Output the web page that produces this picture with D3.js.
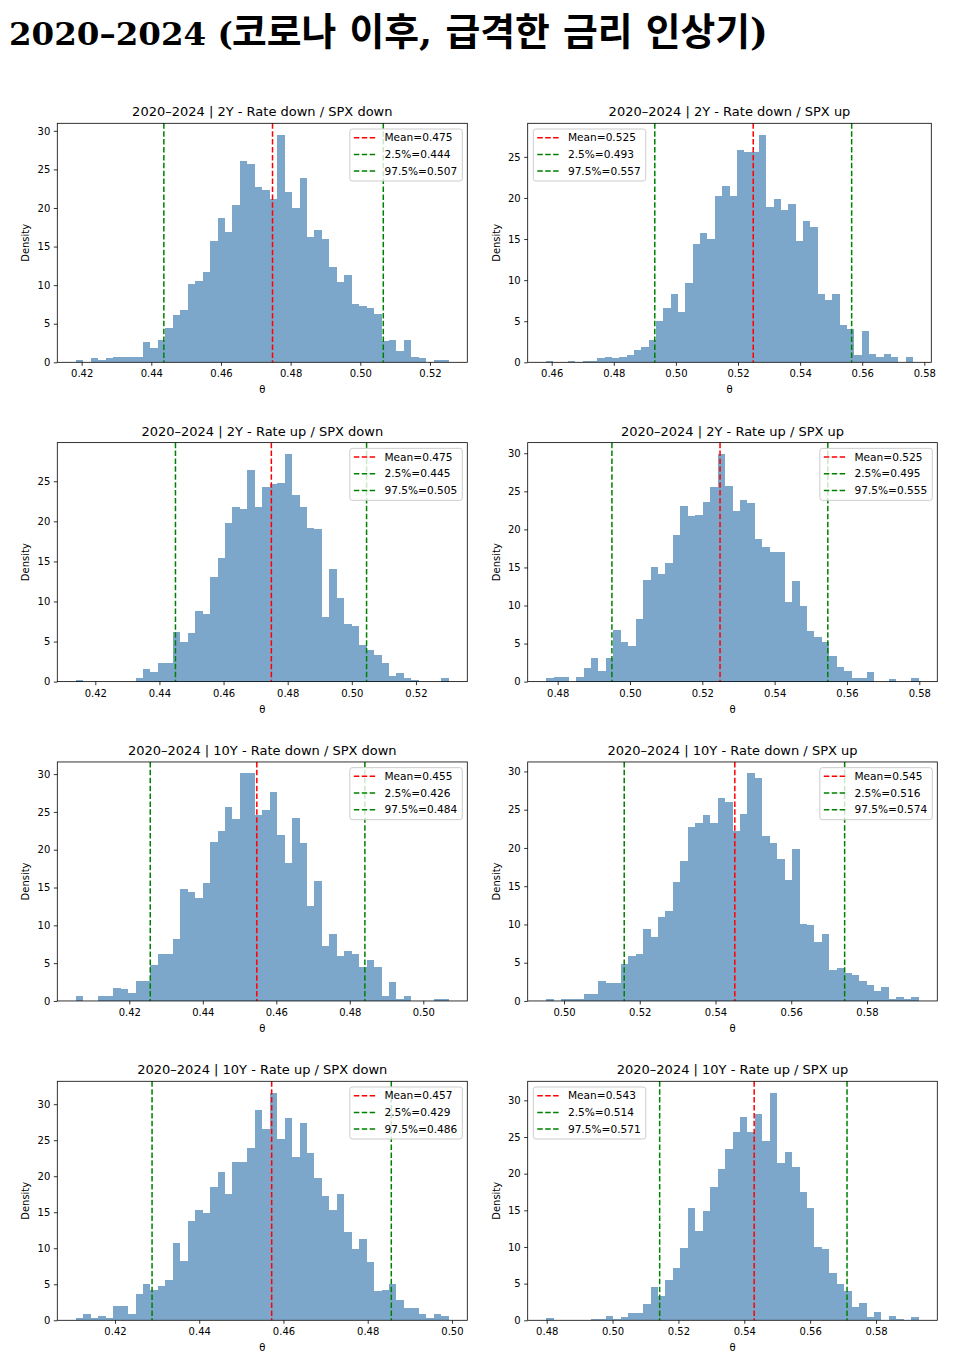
<!DOCTYPE html>
<html>
<head>
<meta charset="utf-8">
<script src="https://cdn.jsdelivr.net/npm/d3@7"></script>
<style>
  body { margin: 0; background: #fff; }
  svg { display: block; }
</style>
</head>
<body>
<div id="chart"></div>
<script>
// panel titles
var titles = [
  "2020–2024 | 2Y - Rate down / SPX down",
  "2020–2024 | 2Y - Rate down / SPX up",
  "2020–2024 | 2Y - Rate up / SPX down",
  "2020–2024 | 2Y - Rate up / SPX up",
  "2020–2024 | 10Y - Rate down / SPX down",
  "2020–2024 | 10Y - Rate down / SPX up",
  "2020–2024 | 10Y - Rate up / SPX down",
  "2020–2024 | 10Y - Rate up / SPX up"
];

// histogram range (first and last bin edge), 50 bins each
var binLo = [0.41836, 0.45818, 0.41396, 0.47686, 0.40548, 0.49533, 0.41073, 0.47988];
var binHi = [0.52537, 0.57634, 0.53020, 0.57983, 0.50690, 0.59365, 0.49922, 0.59296];

// mean and 95% interval
var means = [0.4748, 0.5249, 0.4749, 0.5249, 0.4547, 0.5451, 0.4572, 0.5430];
var q025  = [0.4436, 0.4932, 0.4450, 0.4950, 0.4257, 0.5159, 0.4288, 0.5143];
var q975  = [0.5066, 0.5566, 0.5046, 0.5547, 0.4841, 0.5741, 0.4856, 0.5712];

// densities per bin
var dens1 = [0.3,0,0.5,0.3,0.5,0.7,0.7,0.7,0.7,2.6, 1.9,2.9,4.5,6.1,6.8,10.1,10.6,11.7,15.7,18.7,
  16.9,20.4,26.1,25.7,22.7,22.3,21.1,29.5,22.1,20.0, 23.9,16.2,17.1,16.0,12.4,10.4,11.3,7.6,7.3,7.0,
  6.3,2.7,2.85,1.4,2.85,0.7,0.5,0,0.3,0.3];
var dens2 = [0.2,0,0,0.15,0,0.2,0.2,0.5,0.65,0.5, 0.65,0.85,1.5,1.9,2.75,5.0,6.6,8.3,6.1,9.7,
  14.4,15.7,15.0,20.2,21.4,20.2,25.8,25.65,25.65,27.7, 18.9,19.9,18.5,19.3,14.8,17.2,16.5,8.3,7.6,8.3,
  4.55,4.0,0.85,3.8,1.05,0.65,1.05,0.65,0,0.65];
var dens3 = [0.2,0,0,0,0,0,0,0,0.45,1.55, 1.25,2.3,2.3,6.25,5.0,6.05,8.8,8.4,13.1,15.45,
  19.8,21.75,21.55,26.45,21.75,24.3,24.6,24.8,28.4,23.25, 21.75,19.2,19.0,8.05,14.0,10.4,7.15,6.9,4.55,3.9,
  3.3,2.3,0.65,1.05,0.45,0.2,0,0,0,0.45];
var dens4 = [0.5,0.65,0.65,0,0.65,1.75,3.15,1.45,3.15,6.8, 5.15,4.65,8.25,13.4,15.05,14.1,15.6,19.2,23.1,21.7,
  21.9,23.6,25.55,29.9,25.65,22.4,23.8,23.4,18.8,17.75, 17.0,17.0,10.5,13.25,10.0,6.6,5.9,5.15,3.4,1.95,
  1.45,0.5,0.5,1.2,0,0,0.3,0,0,0.5];
var dens5 = [0.7,0,0,0.7,0.7,1.75,1.6,1.05,2.7,2.7, 4.7,6.2,6.2,8.25,14.85,14.35,13.6,15.55,21.0,22.5,
  25.7,24.0,30.1,30.1,24.65,25.2,27.6,22.0,18.3,24.2, 20.95,12.55,15.8,7.25,8.85,5.95,6.6,6.2,4.45,5.45,
  4.45,0.7,2.5,0.25,0.7,0,0,0,0.25,0.25];
var dens6 = [0.25,0,0.25,0.25,0.25,0.85,0.85,2.55,2.35,2.35, 4.85,5.85,6.15,9.45,8.4,10.95,11.7,15.5,18.35,22.7,
  23.2,24.25,23.2,26.5,25.95,22.2,24.4,29.75,29.1,21.6, 20.6,18.6,15.8,19.9,10.1,9.95,7.7,8.7,4.1,4.3,
  3.6,3.35,2.55,2.15,1.3,1.85,0.25,0.5,0.25,0.5];
var dens7 = [0.3,0.9,0.3,0.55,0.3,1.95,1.95,0.9,3.7,5.1, 4.2,4.8,5.65,10.75,8.2,13.8,15.3,14.9,18.45,20.6,
  17.55,22.0,22.0,23.95,29.15,26.6,31.6,25.2,28.05,22.6, 27.4,23.2,19.7,17.25,15.3,17.55,12.2,9.95,11.3,8.15,
  4.0,4.2,5.1,2.85,1.7,1.7,0.9,0.3,0.9,0.55];
var dens8 = [0.25,0,0,0,0,0,0.2,0.2,0.65,0.2, 0.45,0.95,0.95,2.25,4.5,3.3,5.55,7.15,9.8,15.35,
  12.2,14.95,18.2,20.6,23.35,25.65,27.75,25.65,28.15,24.4, 31.05,21.5,22.9,20.85,17.55,15.3,9.95,9.75,6.4,4.9,
  4.05,1.8,2.4,0.45,1.15,0,0.65,0.2,0,0.4];

var densities = [dens1, dens2, dens3, dens4, dens5, dens6, dens7, dens8];

var W = 970, H = 1366;
var FONT = "'DejaVu Sans', sans-serif";

var svg = d3.select("#chart").append("svg")
    .attr("width", W)
    .attr("height", H);

svg.append("rect").attr("width", W).attr("height", H).attr("fill", "white");

/* main title: latin part in bold serif, hangul falls back to a gothic */
svg.append("text")
    .attr("x", 9).attr("y", 45)
    .attr("font-family", "'DejaVu Serif', serif")
    .attr("font-weight", "bold")
    .attr("font-size", "32.5px")
    .text("2020–2024 (");

svg.append("text")
    .attr("x", 232).attr("y", 45)
    .attr("font-family", "'DejaVu Serif', 'Noto Sans CJK KR', serif")
    .attr("font-weight", "bold")
    .attr("font-size", "38px")
    .attr("textLength", 536)
    .attr("lengthAdjust", "spacingAndGlyphs")
    .text("코로나 이후, 급격한 금리 인상기)");

// frame of the i-th subplot
function frameOf(i) {
    var row = Math.floor(i / 2), col = i % 2;
    var left = col ? 527.7 : 57.3;
    var right = col ? (i === 1 ? 931.3 : 937.3) : 467.3;
    var top = 123.3 + row * 319.33;
    return {left: left, right: right, top: top, bottom: top + 239};
}

var legendOnLeft = {1: true, 7: true};

function panel(i) {
    var f = frameOf(i);
    var lo = binLo[i], hi = binHi[i], dens = densities[i];
    var pad = (hi - lo) * 0.05;
    var bw = (hi - lo) / dens.length;

    var x = d3.scaleLinear().domain([lo - pad, hi + pad]).range([f.left, f.right]);
    var y = d3.scaleLinear().domain([0, d3.max(dens) * 1.05]).range([f.bottom, f.top]);

    var g = svg.append("g");

    var bins = dens.map(function (v, k) {
        return {x0: lo + k * bw, x1: lo + (k + 1) * bw, v: v};
    }).filter(function (d) { return d.v > 0; });

    g.append("g").selectAll("rect")
        .data(bins)
        .enter().append("rect")
        .attr("x", function (d) { return x(d.x0); })
        .attr("width", function (d) { return x(d.x1) - x(d.x0); })
        .attr("y", function (d) { return y(d.v); })
        .attr("height", function (d) { return y(0) - y(d.v); })
        .attr("fill", "steelblue")
        .attr("shape-rendering", "crispEdges")
        .attr("opacity", 0.7);

    var vlines = [
        {v: means[i], c: "red", label: "Mean=" + means[i].toFixed(3)},
        {v: q025[i], c: "green", label: "2.5%=" + q025[i].toFixed(3)},
        {v: q975[i], c: "green", label: "97.5%=" + q975[i].toFixed(3)}
    ];

    g.append("g").selectAll("line")
        .data(vlines)
        .enter().append("line")
        .attr("x1", function (d) { return x(d.v); })
        .attr("x2", function (d) { return x(d.v); })
        .attr("y1", f.top)
        .attr("y2", f.bottom)
        .attr("stroke", function (d) { return d.c; })
        .attr("stroke-width", 1.5)
        .attr("stroke-dasharray", "5.5,2.4");

    // axes
    var xa = g.append("g")
        .attr("transform", "translate(0," + f.bottom + ")")
        .call(d3.axisBottom(x).ticks(6).tickFormat(d3.format(".2f"))
            .tickSize(3.5).tickPadding(4.5).tickSizeOuter(0));
    var ya = g.append("g")
        .attr("transform", "translate(" + f.left + ",0)")
        .call(d3.axisLeft(y).ticks(6).tickFormat(d3.format("d"))
            .tickSize(3.5).tickPadding(3.5).tickSizeOuter(0));
    [xa, ya].forEach(function (a) {
        a.select(".domain").remove();
        a.selectAll("line").attr("stroke", "black").attr("stroke-width", 0.8);
        a.selectAll("text").attr("font-family", FONT).attr("font-size", "10px").attr("fill", "black");
    });

    g.append("rect")
        .attr("x", f.left).attr("y", f.top)
        .attr("width", f.right - f.left).attr("height", f.bottom - f.top)
        .attr("fill", "none")
        .attr("stroke", "black")
        .attr("stroke-width", 0.8);

    g.append("text")
        .attr("x", (f.left + f.right) / 2).attr("y", f.bottom + 31)
        .attr("text-anchor", "middle")
        .attr("font-family", FONT).attr("font-size", "10px")
        .text("θ");

    g.append("text")
        .attr("transform", "translate(" + (f.left - 28) + "," + ((f.top + f.bottom) / 2) + ") rotate(-90)")
        .attr("text-anchor", "middle")
        .attr("font-family", FONT).attr("font-size", "10px")
        .text("Density");

    g.append("text")
        .attr("x", (f.left + f.right) / 2).attr("y", f.top - 7)
        .attr("text-anchor", "middle")
        .attr("font-family", FONT).attr("font-size", "13px")
        .text(titles[i]);

    // legend
    var lg = g.append("g");
    var box = lg.append("rect")
        .attr("rx", 2.5).attr("ry", 2.5)
        .attr("fill", "white").attr("fill-opacity", 0.8)
        .attr("stroke", "#cccccc").attr("stroke-width", 1);
    var maxw = 0;
    vlines.forEach(function (d, r) {
        var ry = 8.7 + r * 16.7;
        lg.append("line")
            .attr("x1", 4).attr("x2", 26.3)
            .attr("y1", ry).attr("y2", ry)
            .attr("stroke", d.c).attr("stroke-width", 1.5)
            .attr("stroke-dasharray", "5.5,2.4");
        var t = lg.append("text")
            .attr("x", 34.6).attr("y", ry).attr("dy", "0.35em")
            .attr("font-family", FONT).attr("font-size", "10.6px")
            .text(d.label);
        maxw = Math.max(maxw, t.node().getComputedTextLength());
    });
    var lw = 34.6 + maxw + 5, lh = 52;
    box.attr("width", lw).attr("height", lh);
    var lx = legendOnLeft[i] ? f.left + 5.6 : f.right - 5 - lw;
    lg.attr("transform", "translate(" + lx + "," + (f.top + 5.7) + ")");
}

for (var i = 0; i < 8; i++) {
    panel(i);
}
</script>
</body>
</html>
